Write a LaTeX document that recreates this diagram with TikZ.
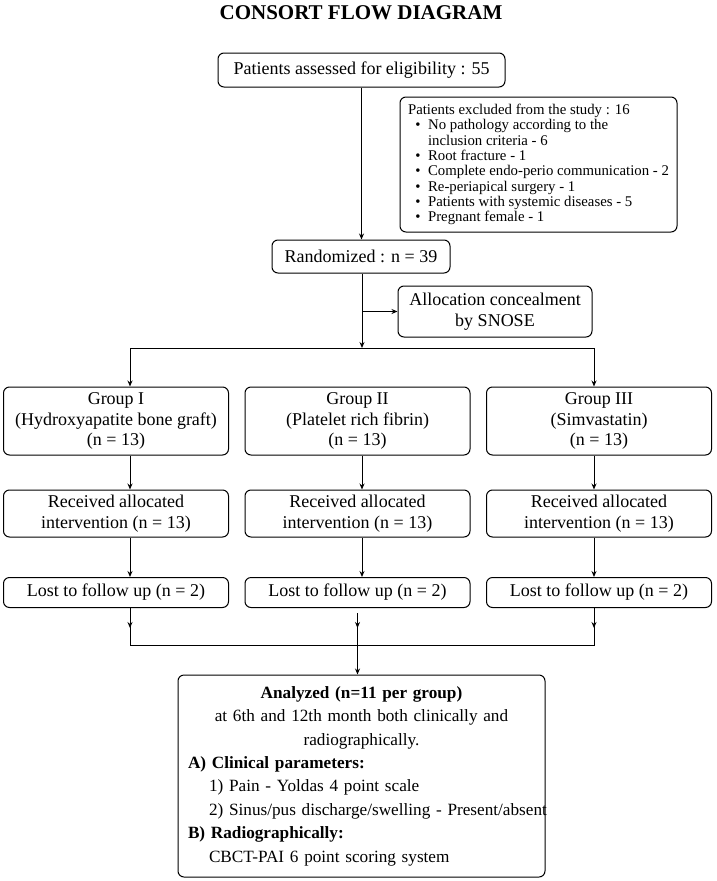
\documentclass[tikz,border=0pt]{standalone}
\usepackage{fontspec}
\setmainfont{Liberation Serif}
\usetikzlibrary{positioning,arrows.meta}

\newcommand{\exb}{\makebox[20pt][c]{\textbullet}}
\newcommand{\midline}[1]{\makebox[363pt][c]{#1}}

\begin{document}
\begin{tikzpicture}[x=1pt,y=-1pt]
  \tikzstyle{every node}=[font=\fontsize{18}{20.5}\selectfont]
  \tikzstyle{box}=[draw,rounded corners=6pt,line width=1pt,align=center,inner sep=2pt]
  \tikzstyle{line}=[line width=1pt]
  \tikzstyle{link}=[line width=1pt,-{Stealth[length=6pt,width=5pt]}]

  \useasboundingbox (0,0) rectangle (716,881);

  % title
  \node[font=\fontsize{21}{24}\selectfont\bfseries] (title) at (361,13) {CONSORT FLOW DIAGRAM};

  % enrolment
  \node[box,minimum width=287pt,minimum height=34pt] (elig) at (361.5,70) {Patients assessed for eligibility : 55};
  \node[box,font=\fontsize{14.8}{15.3}\selectfont,align=left,minimum width=277pt,minimum height=135pt] (excl) at (538.5,164.5)
  {Patients excluded from the study : 16\\
   \exb No pathology according to the\\
   \hspace*{20pt}inclusion criteria - 6\\
   \exb Root fracture - 1\\
   \exb Complete endo-perio communication - 2\\
   \exb Re-periapical surgery - 1\\
   \exb Patients with systemic diseases - 5\\
   \exb Pregnant female - 1};
  \node[box,minimum width=178pt,minimum height=33pt] (rand) at (361,256.5) {Randomized : n = 39};
  \node[box,minimum width=194pt,minimum height=51pt] (alloc) at (495,311.5) {Allocation concealment\\by SNOSE};

  % three arms
  \foreach \i/\cx/\grp/\agent in {1/116/I/Hydroxyapatite bone graft, 2/357.5/II/Platelet rich fibrin, 3/599/III/Simvastatin} {
    \node[box,minimum width=225pt,minimum height=68pt] (g\i) at (\cx,421) {Group \grp\\(\agent)\\(n = 13)};
    \node[box,minimum width=225pt,minimum height=47pt] (r\i) at (\cx,513.5) {Received allocated\\intervention (n = 13)};
    \node[box,minimum width=225pt,minimum height=30pt] (l\i) at (\cx,592.5) {Lost to follow up (n = 2)};
  }

  % analysis
  \node[box,font=\fontsize{17.2}{23.4}\selectfont,align=left,text width=363pt,inner xsep=2pt,minimum height=202pt] (ana) at (361.5,776)
  {\midline{\textbf{Analyzed (n=11 per group)}}\\
   \midline{at 6th and 12th month both clinically and}\\
   \midline{radiographically.}\\
   \hspace*{8pt}\makebox[0pt][l]{\textbf{A) Clinical parameters:}}\\
   \hspace*{29pt}\makebox[0pt][l]{1) Pain - Yoldas 4 point scale}\\
   \hspace*{29pt}\makebox[0pt][l]{2) Sinus/pus discharge/swelling - Present/absent}\\
   \hspace*{8pt}\makebox[0pt][l]{\textbf{B) Radiographically:}}\\
   \hspace*{29pt}\makebox[0pt][l]{CBCT-PAI 6 point scoring system}};

  % columns of the connectors
  \coordinate (sl) at (130,348);
  \coordinate (sm) at (362,348);
  \coordinate (sr) at (594,348);
  \coordinate (jl) at (130,645);
  \coordinate (jr) at (594,645);

  \draw[link] (elig.south) -- (elig.south |- rand.north);
  \draw[link] (rand.south -| sm) -- (sm);
  \draw[link] (sm |- alloc.west) -- (alloc.west);
  \draw[line] (sl) -- (sr);
  \draw[link] (sl) -- (sl |- g1.north);
  \draw[link] (sr) -- (sr |- g3.north);
  \foreach \i/\c in {1/sl,2/sm,3/sr} {
    \draw[link] (g\i.south -| \c) -- (r\i.north -| \c);
    \draw[link] (r\i.south -| \c) -- (l\i.north -| \c);
  }

  % merge
  \draw[line] (l1.south -| sl) -- (jl) -- (jr) -- (l3.south -| sr);
  \draw[link] (l1.south -| sl) -- ++(0,20);
  \draw[link] (l3.south -| sr) -- ++(0,20);
  \draw[link] ([yshift=-5pt]l2.south) -- ++(0,15);
  \draw[link] ([yshift=-5pt]l2.south) -- (l2.south |- ana.north);
\end{tikzpicture}
\end{document}
